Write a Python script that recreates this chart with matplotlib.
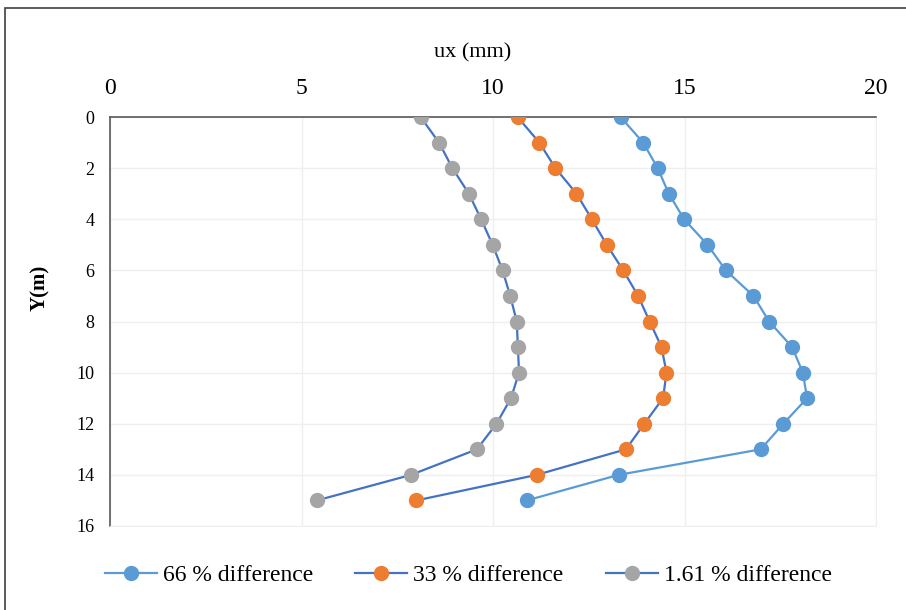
import matplotlib.pyplot as plt
from matplotlib.patches import Rectangle

plt.rcParams['font.family'] = ['Liberation Serif', 'DejaVu Serif']

# depth below top (m)
depth = [0, 1, 2, 3, 4, 5, 6, 7, 8, 9, 10, 11, 12, 13, 14, 15]

# horizontal displacement ux (mm) for each case
ux_66 = [13.33, 13.92, 14.30, 14.59, 14.99, 15.60, 16.08, 16.80,
         17.21, 17.81, 18.09, 18.20, 17.58, 16.99, 13.28, 10.88]
ux_33 = [10.64, 11.21, 11.63, 12.18, 12.58, 12.97, 13.40, 13.79,
         14.09, 14.40, 14.53, 14.44, 13.95, 13.47, 11.14, 8.00]
ux_161 = [8.11, 8.59, 8.94, 9.37, 9.69, 9.99, 10.25, 10.45,
          10.62, 10.65, 10.68, 10.47, 10.09, 9.58, 7.86, 5.40]

labels = ['66 % difference', '33 % difference', '1.61 % difference']
x_ticks = [0, 5, 10, 15, 20]
y_ticks = [0, 2, 4, 6, 8, 10, 12, 14, 16]

fig = plt.figure(figsize=(9.06, 6.10), dpi=100)
ax = fig.add_axes([110/906, 1 - 526/610, 766/906, 409/610])

# outer chart frame
fig.patches.append(Rectangle((5/906, -0.05), 1.05, 1 - 8/610 + 0.05,
                             transform=fig.transFigure, fill=False,
                             edgecolor='#404040', linewidth=1.2))

ax.plot(ux_66, depth, color='#5B9BD5', lw=1.6, marker='o', ms=10,
        mfc='#5B9BD5', mec='#5B9BD5', label=labels[0], zorder=3)
ax.plot(ux_33, depth, color='#4472C4', lw=1.6, marker='o', ms=10,
        mfc='#ED7D31', mec='#ED7D31', label=labels[1], zorder=3)
ax.plot(ux_161, depth, color='#4472C4', lw=1.6, marker='o', ms=10,
        mfc='#A5A5A5', mec='#A5A5A5', label=labels[2], zorder=3)

ax.set_xlim(0, 20)
ax.set_ylim(16, 0)
ax.set_xticks(x_ticks)
ax.set_yticks(y_ticks)
ax.xaxis.tick_top()
ax.xaxis.set_label_position('top')
ax.tick_params(axis='x', length=0, pad=13, labelsize=17)
ax.tick_params(axis='y', length=0, pad=11, labelsize=13)
ax.set_xlabel('ux (mm)', fontsize=16)
ax.xaxis.set_label_coords(0.474, 1.0 + (117 - 57) / 409)
ax.set_ylabel('Y(m)', fontsize=15, fontweight='bold')
ax.yaxis.set_label_coords(-0.078, 0.582)

ax.grid(True, color='#EFEFEF', lw=1, zorder=0)
ax.set_axisbelow(True)
for side in ['right', 'bottom']:
    ax.spines[side].set_color('#EFEFEF')
for side in ['top', 'left']:
    ax.spines[side].set_color('#595959')
    ax.spines[side].set_linewidth(1.2)

fig.legend(loc='center', bbox_to_anchor=(0.517, 0.057), ncol=3,
           frameon=False, fontsize=17, handlelength=2.2,
           handletextpad=0.25, columnspacing=1.8)

fig.savefig('out.png', dpi=100)
